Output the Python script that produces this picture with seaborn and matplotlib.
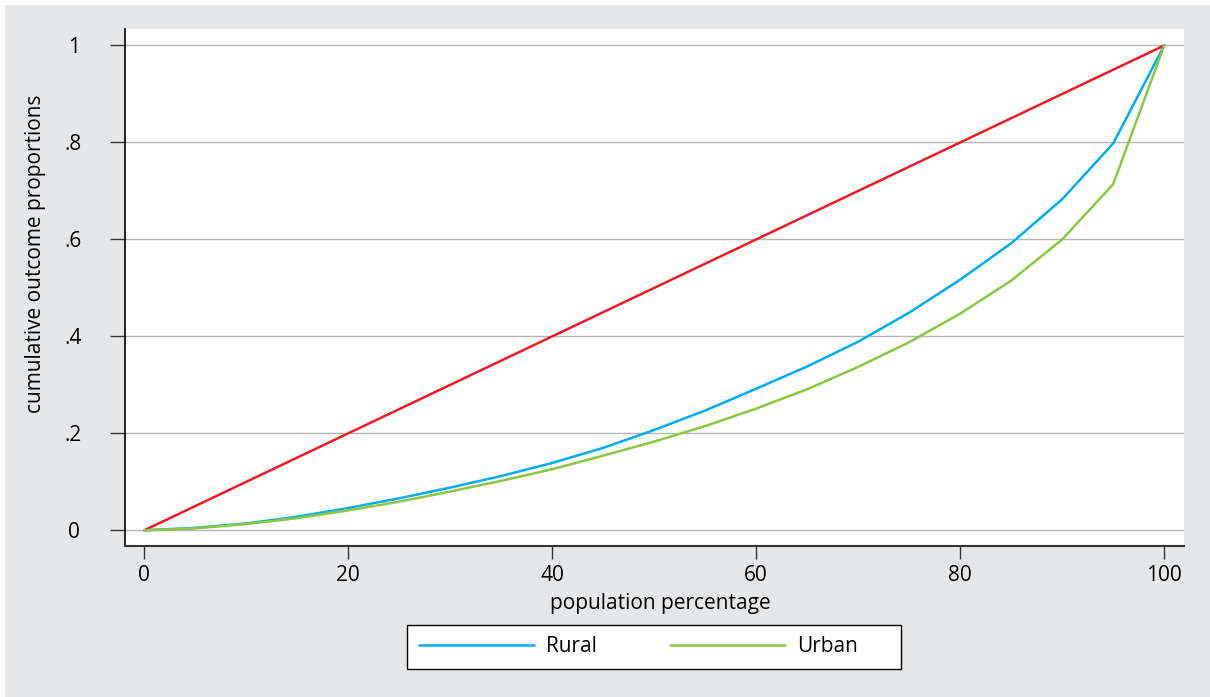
import numpy as np
import pandas as pd
import seaborn as sns
import matplotlib
matplotlib.use("Agg")
import matplotlib.pyplot as plt
from matplotlib.patches import Rectangle

# ---- data ----
pop_pct = [0, 5, 10, 15, 20, 25, 30, 35, 40, 45, 50, 55, 60, 65, 70, 75, 80, 85, 90, 95, 100]
rural = [0.0, 0.005, 0.014, 0.028, 0.046, 0.066, 0.088, 0.112, 0.139, 0.170, 0.207, 0.247,
         0.292, 0.338, 0.389, 0.449, 0.517, 0.592, 0.683, 0.798, 1.0]
urban = [0.0, 0.004, 0.013, 0.025, 0.041, 0.059, 0.080, 0.102, 0.126, 0.154, 0.183, 0.215,
         0.251, 0.291, 0.337, 0.388, 0.447, 0.515, 0.600, 0.714, 1.0]
equality_x = [0, 100]
equality_y = [0, 1]
series_names = ["Rural", "Urban"]
y_ticks = [0, 0.2, 0.4, 0.6, 0.8, 1.0]
y_tick_labels = ["0", ".2", ".4", ".6", ".8", "1"]
x_ticks = [0, 20, 40, 60, 80, 100]

df = pd.DataFrame({
    "pop": pop_pct * 2,
    "value": rural + urban,
    "group": [series_names[0]] * len(pop_pct) + [series_names[1]] * len(pop_pct),
})
eq = pd.DataFrame({"pop": equality_x, "value": equality_y})

sns.set_theme(style="white")
plt.rcParams["font.family"] = ["Open Sans", "DejaVu Sans"]
plt.rcParams["text.color"] = "black"
plt.rcParams["axes.labelcolor"] = "black"
plt.rcParams["xtick.color"] = "black"
plt.rcParams["ytick.color"] = "black"
FS = 15

W, H = 1210, 697
PX2PT = 72 / 100
fig = plt.figure(figsize=(W / 100, H / 100), dpi=100)
fig.patch.set_facecolor("white")
fig.patches.append(Rectangle((5 / W, 0), 1 - 5 / W, (H - 5) / H, transform=fig.transFigure,
                             facecolor="#e6e7e9", edgecolor="none", zorder=-10))

ax = fig.add_axes([125 / W, (H - 546) / H, 1059 / W, 517 / H])
ax.set_facecolor("white")

for y in y_ticks:
    ax.axhline(y, color="#b4b4b4", lw=1.0, zorder=0)

sns.lineplot(data=eq, x="pop", y="value", ax=ax, color="#ec1c24", lw=1.8, legend=False)
sns.lineplot(data=df, x="pop", y="value", hue="group", ax=ax,
             palette={"Rural": "#00aeef", "Urban": "#8dc63f"}, lw=1.8)

ax.set_xlim(-1.89, 101.94)
ax.set_ylim(-0.0324, 1.034)
ax.set_xticks(x_ticks)
ax.set_xticklabels([str(v) for v in x_ticks])
ax.set_yticks(y_ticks)
ax.set_yticklabels(y_tick_labels)
for lab in ax.get_yticklabels():
    lab.set_horizontalalignment("center")

ax.tick_params(axis="y", length=11, width=1, color="#333333", labelcolor="black",
               pad=26, labelsize=FS, left=True)
ax.tick_params(axis="x", length=9, width=1, color="#333333", labelcolor="black",
               pad=5, labelsize=FS, bottom=True)

for s in ["top", "right"]:
    ax.spines[s].set_visible(False)
ax.spines["left"].set_color("black")
ax.spines["left"].set_linewidth(1.2)
ax.spines["bottom"].set_color("#333333")
ax.spines["bottom"].set_linewidth(1.5)

ax.set_xlabel("population percentage", fontsize=FS, color="black")
ax.set_ylabel("cumulative outcome proportions", fontsize=FS, color="black")
ax.xaxis.set_label_coords((660 - 125) / 1059, (546 - 603) / 517)
ax.yaxis.set_label_coords((36 - 125) / 1059, (546 - 254) / 517)
ax.xaxis.label.set_va("center")
ax.yaxis.label.set_va("center")

# ---- legend: frame box drawn to match Stata layout ----
ax.get_legend().remove()
handles, labels = ax.get_legend_handles_labels()
handles = [h for h, l in zip(handles, labels) if l in series_names]
labels = [l for l in labels if l in series_names]

fig.patches.append(Rectangle((407 / W, (H - 669) / H), (901 - 407) / W, 44 / H,
                             transform=fig.transFigure, facecolor="white",
                             edgecolor="black", lw=1.0, zorder=5))

renderer = fig.canvas.get_renderer()
t = fig.text(0, 0, labels[0], fontsize=FS)
w_rural = t.get_window_extent(renderer).width
t.remove()

handle_px = 115
textpad_px = 12
em_px = FS / PX2PT
colsp_px = 670 - (419 + handle_px + textpad_px + w_rural)
leg = fig.legend(handles, labels, loc="center left", bbox_to_anchor=(419 / W, (H - 647) / H),
                 ncol=2, fontsize=FS, frameon=False,
                 handlelength=handle_px / em_px, handletextpad=textpad_px / em_px,
                 columnspacing=colsp_px / em_px, borderpad=0, borderaxespad=0)
leg.set_zorder(6)

fig.savefig("out.png", dpi=100, facecolor=fig.get_facecolor())
